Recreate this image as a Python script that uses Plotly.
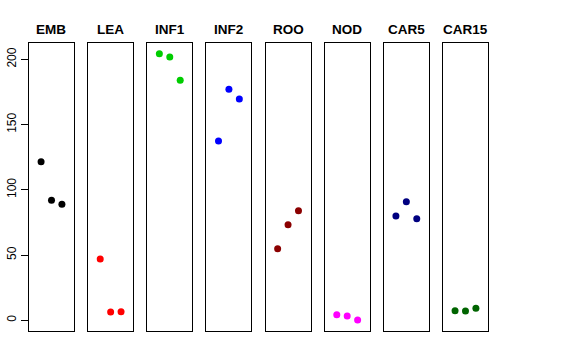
import plotly.graph_objects as go

categories = ["EMB", "LEA", "INF1", "INF2", "ROO", "NOD", "CAR5", "CAR15"]
replicates = [1, 2, 3]
values = {
    "EMB":   [121.5, 92.0, 88.9],
    "LEA":   [47.0, 6.4, 6.6],
    "INF1":  [204.3, 201.8, 184.0],
    "INF2":  [137.4, 177.0, 169.6],
    "ROO":   [54.9, 73.3, 84.0],
    "NOD":   [4.3, 3.3, 0.2],
    "CAR5":  [80.0, 90.9, 77.9],
    "CAR15": [7.4, 7.1, 9.2],
}
colors = ["#000000", "#FF0000", "#00CD00", "#0000FF", "#8B0000", "#FF00FF", "#000080", "#006400"]
y_ticks = [0, 50, 100, 150, 200]

W, H = 576, 360
left0, pw, step = 29.0, 45.0, 59.14
top_px, bot_px = 43.3, 331.0

fig = go.Figure()
for i, cat in enumerate(categories):
    n = "" if i == 0 else str(i + 1)
    fig.add_trace(go.Scatter(
        x=replicates, y=values[cat], mode="markers",
        marker=dict(color=colors[i], size=7),
        xaxis="x" + n, yaxis="y" + n, showlegend=False, hoverinfo="skip"))
    x0 = (left0 + i * step) / W
    x1 = (left0 + i * step + pw) / W
    fig.layout["xaxis" + n] = dict(
        domain=[x0, x1], range=[-0.16, 4.16], showgrid=False, zeroline=False,
        showticklabels=False, ticks="", showline=True, linecolor="black",
        linewidth=1, mirror=True, anchor="y" + n, fixedrange=True, automargin=False)
    ya = dict(
        domain=[1 - bot_px / H, 1 - top_px / H], range=[-8.2, 212.3],
        showgrid=False, zeroline=False, showline=True, linecolor="black",
        linewidth=1, mirror=True, anchor="x" + n, fixedrange=True, automargin=False)
    if i == 0:
        ya.update(tickvals=y_ticks, ticks="outside", ticklen=7, tickcolor="black",
                  tickangle=-90, tickfont=dict(size=12, color="black",
                                               family="Liberation Sans, Arial, sans-serif"))
    else:
        ya.update(showticklabels=False, ticks="")
    fig.layout["yaxis" + n] = ya
    fig.add_annotation(
        x=(x0 + x1) / 2, y=1 - 29 / H, xref="paper", yref="paper",
        text="<b>" + cat + "</b>", showarrow=False,
        font=dict(size=13.5, color="black", family="Liberation Sans, Arial, sans-serif"),
        xanchor="center", yanchor="middle")

fig.update_layout(
    width=W, height=H, margin=dict(l=0, r=0, t=0, b=0),
    paper_bgcolor="white", plot_bgcolor="white",
    font=dict(family="Liberation Sans, Arial, sans-serif"))
fig.write_html("out.html", config={"displayModeBar": False},
               post_script="document.body.style.margin='0';document.body.style.overflow='hidden';")
